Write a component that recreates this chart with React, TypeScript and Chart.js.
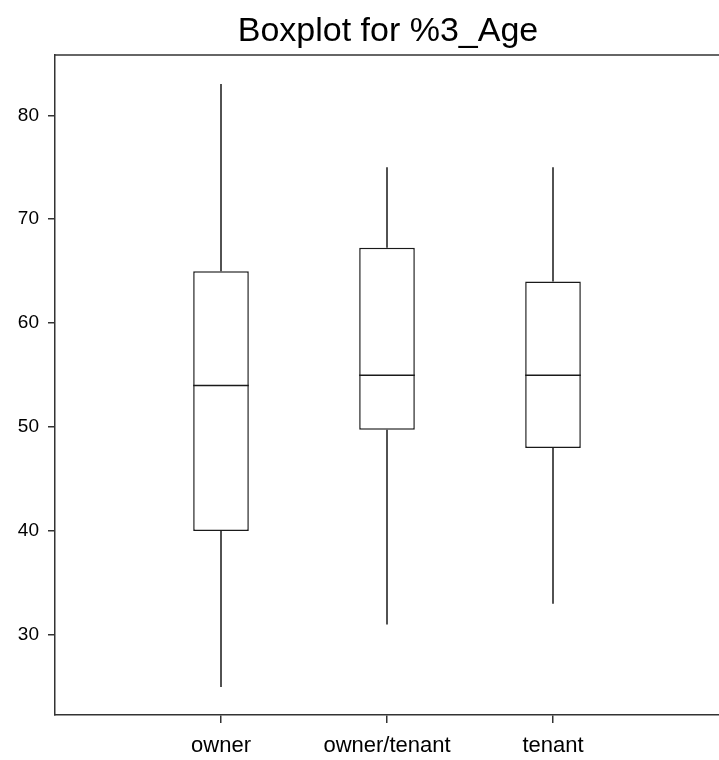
import React, { useEffect, useRef } from "react";
import { Chart, registerables } from "chart.js";

Chart.register(...registerables);

const categories = ["owner", "owner/tenant", "tenant"];
const whiskerLow = [25, 31, 33];
const q1 = [40, 49.75, 48];
const median = [54, 55, 55];
const q3 = [65, 67.25, 64];
const whiskerHigh = [83, 75, 75];
const yTicks = [30, 40, 50, 60, 70, 80];
const titleText = "Boxplot for %3_Age";

const FONT = "'Liberation Sans', Arial, Helvetica, sans-serif";
const INK = "#1a1a1a";

const boxPlugin = {
  id: "boxExtras",
  beforeDatasetsDraw(chart: any) {
    const { ctx, scales } = chart;
    const xs = scales.x;
    const ys = scales.y;
    ctx.save();
    ctx.strokeStyle = INK;
    ctx.lineWidth = 1.5;
    categories.forEach((_, i) => {
      const x = xs.getPixelForValue(i + 1);
      ctx.beginPath();
      ctx.moveTo(x, ys.getPixelForValue(q3[i]));
      ctx.lineTo(x, ys.getPixelForValue(whiskerHigh[i]));
      ctx.moveTo(x, ys.getPixelForValue(q1[i]));
      ctx.lineTo(x, ys.getPixelForValue(whiskerLow[i]));
      ctx.stroke();
    });
    ctx.restore();
  },
  afterDatasetsDraw(chart: any) {
    const { ctx, scales, chartArea } = chart;
    const xs = scales.x;
    const ys = scales.y;
    const meta = chart.getDatasetMeta(0);
    ctx.save();
    ctx.strokeStyle = INK;
    ctx.lineWidth = 1.5;
    categories.forEach((_, i) => {
      const bar = meta.data[i] as any;
      const x = xs.getPixelForValue(i + 1);
      const w = bar.width;
      const y = ys.getPixelForValue(median[i]);
      ctx.beginPath();
      ctx.moveTo(x - w / 2, y);
      ctx.lineTo(x + w / 2, y);
      ctx.stroke();
    });
    // top frame line
    ctx.strokeStyle = "#333";
    ctx.beginPath();
    ctx.moveTo(chartArea.left, chartArea.top);
    ctx.lineTo(chartArea.right + 2, chartArea.top);
    ctx.stroke();
    // title centred over the plot region
    ctx.fillStyle = "#000";
    ctx.font = `34px ${FONT}`;
    ctx.textAlign = "center";
    ctx.textBaseline = "middle";
    ctx.fillText(titleText, (chartArea.left + chartArea.right + 2) / 2, 32);
    ctx.restore();
  },
};

export default function App() {
  const ref = useRef<HTMLCanvasElement | null>(null);

  useEffect(() => {
    document.body.style.margin = "0";
    const canvas = ref.current;
    if (!canvas) return;
    const chart = new Chart(canvas, {
      type: "bar",
      data: {
        datasets: [
          {
            data: categories.map((_, i) => ({ x: i + 1, y: [q1[i], q3[i]] })) as any,
            backgroundColor: "#ffffff",
            borderColor: INK,
            borderWidth: 1.5,
            borderSkipped: false,
            categoryPercentage: 1,
            barPercentage: 0.335,
          },
        ],
      },
      options: {
        animation: false,
        responsive: false,
        devicePixelRatio: 1,
        layout: { padding: { top: 55, left: 0, right: 0, bottom: 0 } },
        plugins: {
          legend: { display: false },
          tooltip: { enabled: false },
          title: { display: false },
        },
        scales: {
          x: {
            type: "linear",
            min: 0,
            max: 4,
            offset: false,
            afterBuildTicks: (axis: any) => {
              axis.ticks = categories.map((_, i) => ({ value: i + 1 }));
            },
            afterFit: (axis: any) => {
              axis.height = 45;
            },
            ticks: {
              callback: (v: any) => categories[Number(v) - 1] ?? "",
              color: "#000",
              font: { family: FONT, size: 22 },
              padding: 10,
              maxRotation: 0,
              autoSkip: false,
            },
            grid: {
              display: true,
              offset: false,
              drawOnChartArea: false,
              drawTicks: true,
              tickLength: 8,
              color: "#333",
              lineWidth: 1.5,
            },
            border: { display: true, color: "#333", width: 1.5 },
          },
          y: {
            type: "linear",
            min: 22.3,
            max: 85.8,
            afterBuildTicks: (axis: any) => {
              axis.ticks = yTicks.map((v) => ({ value: v }));
            },
            afterFit: (axis: any) => {
              axis.width = 55;
            },
            ticks: {
              color: "#000",
              font: { family: FONT, size: 19 },
              padding: 9,
            },
            grid: {
              display: true,
              drawOnChartArea: false,
              drawTicks: true,
              tickLength: 7,
              color: "#333",
              lineWidth: 1.5,
            },
            border: { display: true, color: "#333", width: 1.5 },
          },
        },
      },
      plugins: [boxPlugin],
    });
    return () => chart.destroy();
  }, []);

  return (
    <div style={{ width: 719, height: 760, background: "#fff" }}>
      <canvas ref={ref} width={719} height={760} style={{ display: "block" }} />
    </div>
  );
}
